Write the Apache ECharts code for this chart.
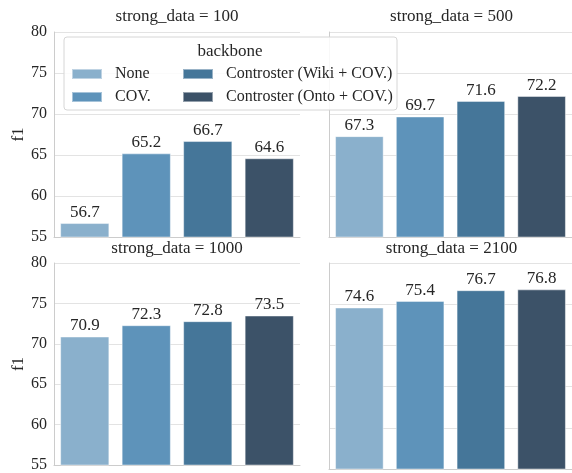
<!DOCTYPE html>
<html><head><meta charset="utf-8">
<script src="https://cdn.jsdelivr.net/npm/echarts@6/dist/echarts.min.js"></script>
<style>html,body{margin:0;padding:0;background:#fff}#c{width:572px;height:473px}</style>
</head><body><div id="c"></div>
<script>
const backbones = ['None', 'COV.', 'Controster (Wiki + COV.)', 'Controster (Onto + COV.)'];
const panels = ['strong_data = 100', 'strong_data = 500', 'strong_data = 1000', 'strong_data = 2100'];
const f1_100 = [56.7, 65.2, 66.7, 64.6];
const f1_500 = [67.3, 69.7, 71.6, 72.2];
const f1_1000 = [70.9, 72.3, 72.8, 73.5];
const f1_2100 = [74.6, 75.4, 76.7, 76.8];
const yTicks = [55, 60, 65, 70, 75, 80];
const colors = ['#8AB0CC', '#5E93BA', '#457699', '#3C5268'];

const panelData = [f1_100, f1_500, f1_1000, f1_2100];
const font = '"Liberation Serif", "Times New Roman", serif';
const gridPos = [
  {left: 54, top: 32, width: 246, height: 205},
  {left: 329, top: 32, width: 245, height: 205},
  {left: 54, top: 263, width: 246, height: 206},
  {left: 329, top: 263, width: 245, height: 206}
];
const titleTops = [8, 8, 240, 240];

const option = {
  animation: false,
  backgroundColor: '#fff',
  title: panels.map((t, i) => ({
    text: t, left: gridPos[i].left + gridPos[i].width / 2, top: titleTops[i], textAlign: 'center', padding: 0,
    textStyle: {fontFamily: font, fontSize: 17, fontWeight: 'normal', color: '#262626'}
  })),
  grid: gridPos.map(g => Object.assign({containLabel: false}, g)),
  xAxis: panels.map((p, i) => ({
    type: 'category', gridIndex: i, data: backbones,
    axisLabel: {show: false}, axisTick: {show: false},
    axisLine: {show: true, lineStyle: {color: '#cccccc', width: 1}},
    splitLine: {show: false}
  })),
  yAxis: panels.map((p, i) => ({
    type: 'value', gridIndex: i, min: yTicks[0], max: yTicks[yTicks.length - 1], interval: 5,
    name: (i % 2 === 0) ? 'f1' : '', nameLocation: 'middle', nameGap: 27,
    nameTextStyle: {fontFamily: font, fontSize: 17, color: '#262626'},
    axisLabel: {show: i % 2 === 0, fontFamily: font, fontSize: 16, color: '#262626', margin: 7},
    axisTick: {show: false},
    axisLine: {show: true, lineStyle: {color: '#cccccc', width: 1}},
    splitLine: {show: true, lineStyle: {color: '#e3e3e3', width: 1}}
  })),
  legend: [
    {data: [backbones[0], backbones[1]], orient: 'vertical', left: 71, top: 66, padding: 0,
     itemWidth: 30, itemHeight: 10, itemGap: 7, icon: 'rect',
     textStyle: {fontFamily: font, fontSize: 16, color: '#262626', padding: [0, 0, 0, 8]}, selectedMode: false, z: 20},
    {data: [backbones[2], backbones[3]], orient: 'vertical', left: 182, top: 66, padding: 0,
     itemWidth: 30, itemHeight: 10, itemGap: 7, icon: 'rect',
     textStyle: {fontFamily: font, fontSize: 16, color: '#262626', padding: [0, 0, 0, 8]}, selectedMode: false, z: 20}
  ],
  graphic: [
    {type: 'rect', shape: {x: 64, y: 37, width: 333, height: 73, r: 3}, z: 10,
     style: {fill: 'rgba(255,255,255,0.85)', stroke: '#d6d6d6', lineWidth: 1}},
    {type: 'text', x: 230, y: 52, z: 11,
     style: {text: 'backbone', fontFamily: font, fontSize: 17, fill: '#262626', align: 'center', verticalAlign: 'middle'}}
  ],
  series: []
};

panelData.forEach((vals, p) => {
  backbones.forEach((b, k) => {
    option.series.push({
      type: 'bar', name: b, xAxisIndex: p, yAxisIndex: p, stack: 'p' + p,
      barWidth: '80%',
      data: vals.map((v, j) => j === k ? v : '-'),
      itemStyle: {color: colors[k], borderColor: 'rgba(255,255,255,0.45)', borderWidth: 1},
      label: {show: true, position: 'top', distance: 2, fontFamily: font, fontSize: 17, color: '#262626'}
    });
  });
});

const chart = echarts.init(document.getElementById('c'), null, {renderer: 'canvas'});
chart.setOption(option);
</script></body></html>
